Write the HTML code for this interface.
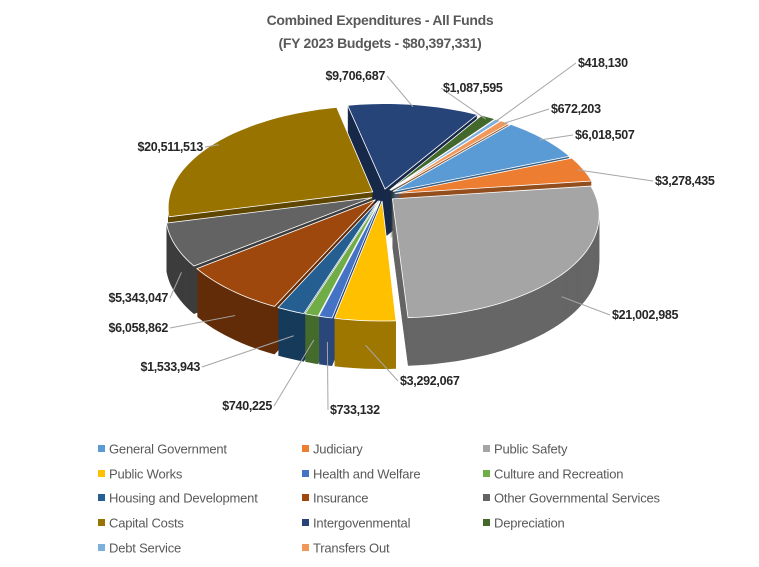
<!DOCTYPE html>
<html><head><meta charset="utf-8"><style>
body{margin:0;background:#fff;}
svg{display:block;font-family:"Liberation Sans",sans-serif;}
</style></head><body>
<svg id="chart" width="759" height="567" viewBox="0 0 759 567">
<text x="380" y="25" text-anchor="middle" font-size="14" font-weight="bold" fill="#595959" letter-spacing="-0.3">Combined Expenditures - All Funds</text>
<text x="380" y="48" text-anchor="middle" font-size="14" font-weight="bold" fill="#595959" letter-spacing="-0.3">(FY 2023 Budgets - $80,397,331)</text>
<g id="pie"></g>
<g id="labels"></g>
<g id="legend"></g>
</svg>
<script>
const categories = ["General Government","Judiciary","Public Safety","Public Works","Health and Welfare","Culture and Recreation","Housing and Development","Insurance","Other Governmental Services","Capital Costs","Intergovenmental","Depreciation","Debt Service","Transfers Out"];
const values = [6018507,3278435,21002985,3292067,733132,740225,1533943,6058862,5343047,20511513,9706687,1087595,418130,672203];
const valueLabels = ["$6,018,507","$3,278,435","$21,002,985","$3,292,067","$733,132","$740,225","$1,533,943","$6,058,862","$5,343,047","$20,511,513","$9,706,687","$1,087,595","$418,130","$672,203"];
const colors = ["#5B9BD5","#ED7D31","#A5A5A5","#FFC000","#4472C4","#70AD47","#255E91","#9E480E","#636363","#997300","#264478","#43682B","#7CAFDD","#F1975A"];

const NS="http://www.w3.org/2000/svg";
const cx=383, cy=195, rx=203, ry=100, depth=48, startDeg=41, explode=0.06, persp=0.15;
const labelPos=[[575,139,"start"],[655,185,"start"],[612,319,"start"],[400,385,"start"],[330,414,"start"],[272,410,"end"],[200,371,"end"],[168,332,"end"],[168,302,"end"],[203,151,"end"],[385,80,"end"],[443,92,"start"],[578,67,"start"],[551,113,"start"]];

function shade(hex,f){const n=parseInt(hex.slice(1),16);const r=Math.round(((n>>16)&255)*f),g=Math.round(((n>>8)&255)*f),b=Math.round((n&255)*f);return `rgb(${r},${g},${b})`;}
function proj(u,v,dy){const s=1/(1+persp*v);return [cx+rx*u*s, cy-ry*v*s+dy];}

const total=values.reduce((a,b)=>a+b,0);
const slices=[];let acc=startDeg;
values.forEach((v,i)=>{const span=v/total*360;const mid=acc+span/2;const t=mid*Math.PI/180;
 slices.push({i,a0:acc,a1:acc+span,mid,ou:explode*Math.sin(t),ov:explode*Math.cos(t)});acc+=span;});

function edgePt(s,a,r,dy){const t=a*Math.PI/180;return proj(s.ou+r*Math.sin(t), s.ov+r*Math.cos(t), dy);}
function path(s,dy){const c=proj(s.ou,s.ov,dy);let d=`M${c[0].toFixed(1)},${c[1].toFixed(1)}`;
 const n=Math.max(4,Math.ceil((s.a1-s.a0)/2));
 for(let k=0;k<=n;k++){const p=edgePt(s,s.a0+(s.a1-s.a0)*k/n,1,dy);d+=`L${p[0].toFixed(1)},${p[1].toFixed(1)}`;}
 return d+'Z';}

const pie=document.getElementById('pie');
const order=slices.slice().sort((a,b)=>Math.cos(b.mid*Math.PI/180)-Math.cos(a.mid*Math.PI/180));
order.forEach(s=>{
 const g=document.createElementNS(NS,'g');
 
 
 for(let d=depth;d>0;d-=1){const p=document.createElementNS(NS,'path');p.setAttribute('d',path(s,d));p.setAttribute('fill',shade(colors[s.i],0.62));g.appendChild(p);}
 const top=document.createElementNS(NS,'path');top.setAttribute('d',path(s,0));top.setAttribute('fill',colors[s.i]);top.setAttribute('stroke','#fff');top.setAttribute('stroke-width','0.8');
 g.appendChild(top);pie.appendChild(g);
});

const lg=document.getElementById('labels');
slices.forEach(s=>{
 const [lx,ly,anc]=labelPos[s.i];
 const front=Math.cos(s.mid*Math.PI/180)<0;
 const e=edgePt(s,s.mid,0.97,front?depth*0.6:0);
 const sx=anc==="start"?lx-2:lx+2;
 const line=document.createElementNS(NS,'polyline');
 line.setAttribute('points',`${e[0]},${e[1]} ${sx},${ly-4}`);
 line.setAttribute('fill','none');line.setAttribute('stroke','#a6a6a6');line.setAttribute('stroke-width','1');
 
 
 lg.appendChild(line);
 const t=document.createElementNS(NS,'text');
 t.setAttribute('x',lx);t.setAttribute('y',ly);t.setAttribute('text-anchor',anc);
 t.setAttribute('font-size','12.5');t.setAttribute('font-weight','bold');t.setAttribute('fill','#262626');t.setAttribute('letter-spacing','-0.3');
 t.textContent=valueLabels[s.i];
 
 
 lg.appendChild(t);
});

const leg=document.getElementById('legend');
const colX=[98,302,483], rowY=[449,474,498,523,548];
categories.forEach((c,i)=>{
 const x=colX[i%3], y=rowY[Math.floor(i/3)];
 const g=document.createElementNS(NS,'g');
 
 
 const r=document.createElementNS(NS,'rect');r.setAttribute('x',x);r.setAttribute('y',y-4);r.setAttribute('width',7);r.setAttribute('height',7);r.setAttribute('fill',colors[i]);
 const t=document.createElementNS(NS,'text');t.setAttribute('x',x+11);t.setAttribute('y',y+4.5);t.setAttribute('font-size','13');t.setAttribute('fill','#595959');t.setAttribute('letter-spacing','-0.2');t.textContent=c;
 g.appendChild(r);g.appendChild(t);leg.appendChild(g);
});
</script>
</body></html>
